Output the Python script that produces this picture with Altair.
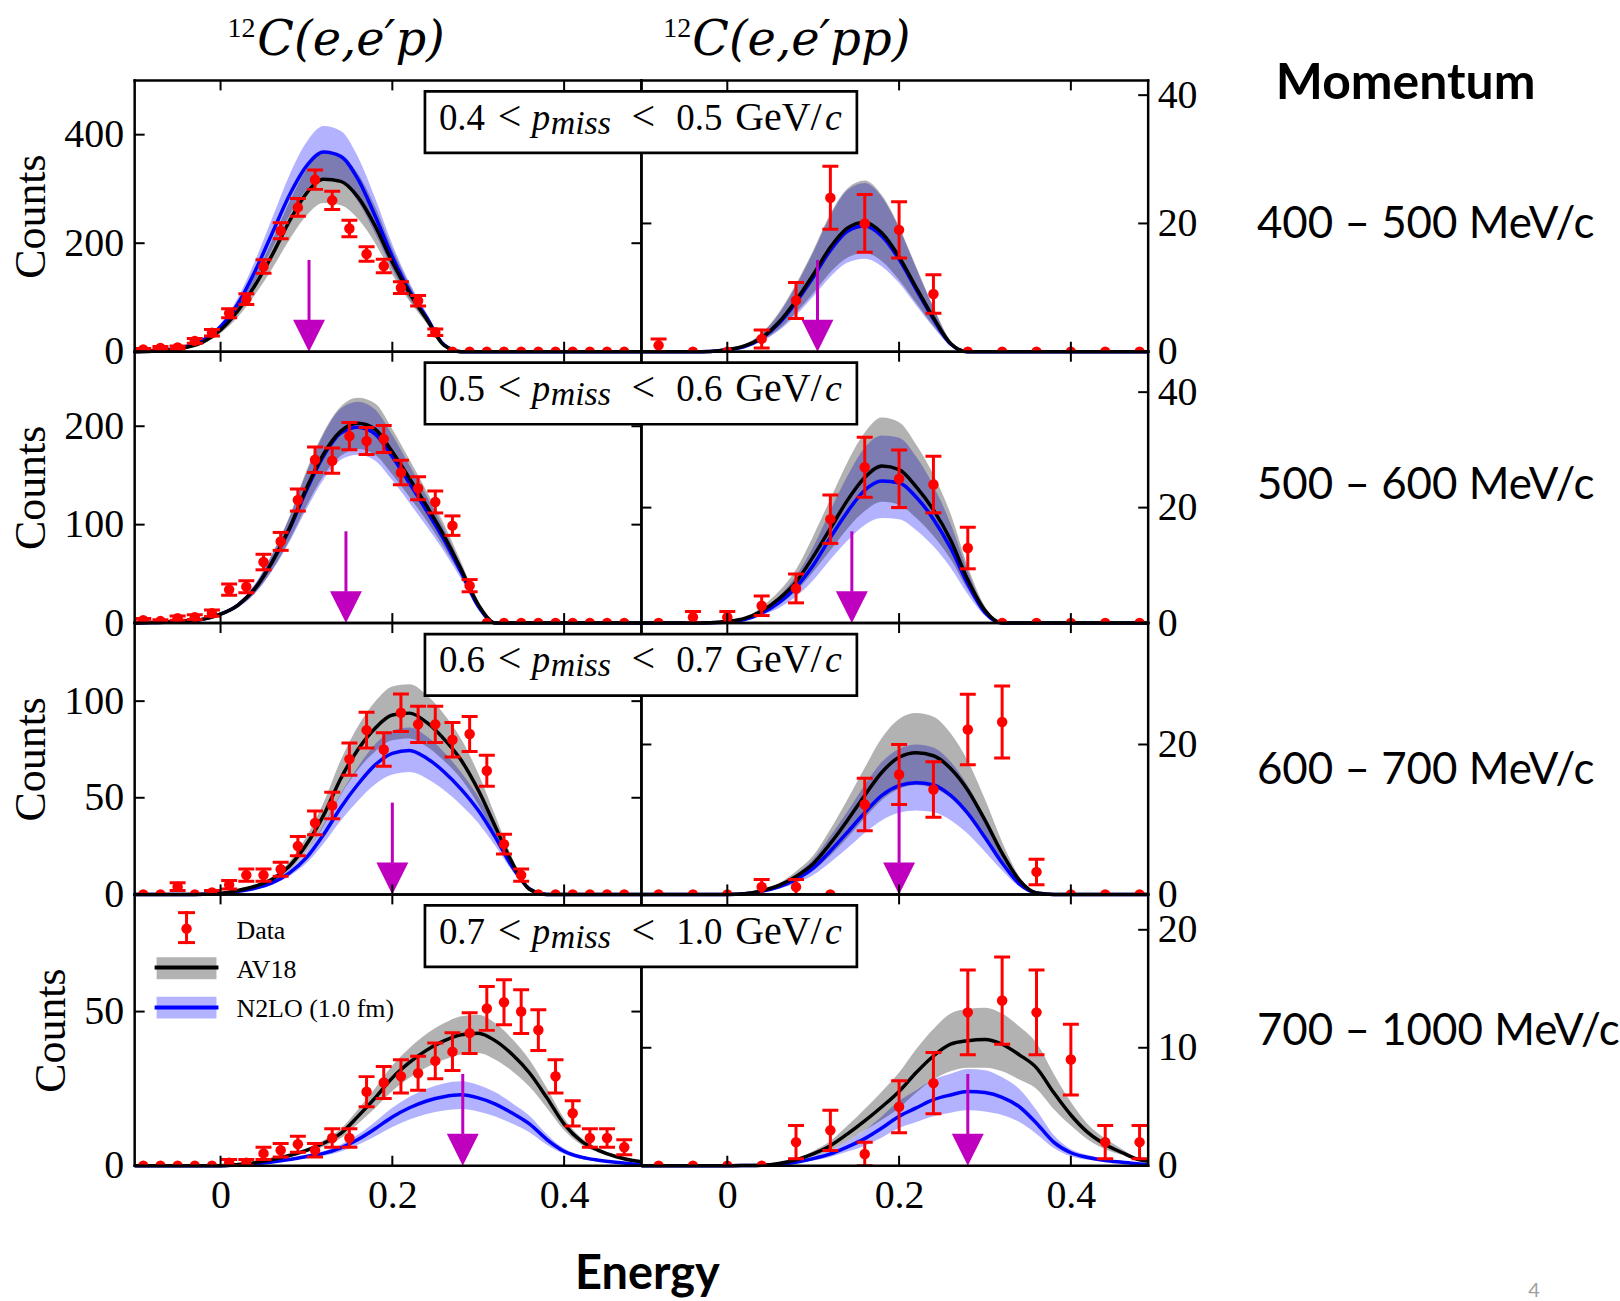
import altair as alt
import pandas as pd

# ------------------------------------------------------------------ geometry
W, H = 508, 272            # size of one panel (plot area)
TICK = 10                  # inward tick length
X_DOMAIN = [-0.1, 0.49]
X_TICKS = [0.0, 0.2, 0.4]
MAGENTA = "#BF00BF"
SERIF = "Liberation Serif"
SANS = "Lato"

# ------------------------------------------------------------------ data
# simulation grid (energy, GeV)
X_GRID = [-0.10, -0.08, -0.06, -0.04, -0.02, 0.00, 0.02, 0.04, 0.06, 0.08,
          0.10, 0.12, 0.14, 0.16, 0.18, 0.20, 0.22, 0.24, 0.26, 0.28,
          0.30, 0.32, 0.34, 0.36, 0.38, 0.40, 0.42, 0.44, 0.46, 0.48, 0.49]

# measured bins
EP_X = [-0.09, -0.07, -0.05, -0.03, -0.01, 0.01, 0.03, 0.05, 0.07, 0.09,
        0.11, 0.13, 0.15, 0.17, 0.19, 0.21, 0.23, 0.25, 0.27, 0.29,
        0.31, 0.33, 0.35, 0.37, 0.39, 0.41, 0.43, 0.45, 0.47]
EPP_X = [-0.08, -0.04, 0.00, 0.04, 0.08, 0.12, 0.16, 0.20, 0.24, 0.28,
         0.32, 0.36, 0.40, 0.44, 0.48]

P_LOW = ["0.4", "0.5", "0.6", "0.7"]
P_HIGH = ["0.5", "0.6", "0.7", "1.0"]
MOMENTUM_BINS = ["400 \u2013 500 MeV/c", "500 \u2013 600 MeV/c",
                 "600 \u2013 700 MeV/c", "700 \u2013 1000 MeV/c"]

# ---- 0.4 < pmiss < 0.5
EP1_AV18 = [0, 1, 3, 8, 18, 40, 75, 122, 178, 240, 292, 318, 314, 285, 232, 165, 108, 60, 12, 0] + [0] * 11
EP1_AV18_LO = [0, 0.8, 2.5, 6.8, 15.5, 34, 64, 105, 153, 206, 251, 274, 270, 245, 200, 142, 93, 52, 10, 0] + [0] * 11
EP1_AV18_HI = [0, 1.2, 3.5, 9.2, 21, 46, 86, 140, 205, 276, 336, 366, 361, 328, 267, 190, 124, 69, 14, 0] + [0] * 11
EP1_N2LO = [0, 2, 4, 10, 22, 46, 88, 148, 218, 288, 342, 368, 360, 318, 250, 175, 112, 63, 13, 0] + [0] * 11
EP1_N2LO_LO = [0, 1.7, 3.5, 8.7, 19, 40, 77, 129, 190, 251, 298, 320, 313, 277, 218, 152, 97, 55, 11, 0] + [0] * 11
EP1_N2LO_HI = [0, 2.3, 4.5, 11.3, 25, 52, 99, 167, 246, 325, 386, 416, 407, 359, 283, 198, 127, 71, 15, 0] + [0] * 11
EP1_COUNTS = [4, 7, 8, 20, 35, 71, 97, 157, 223, 266, 317, 279, 227, 180, 158, 118, 94, 36] + [0] * 11
EP1_ERR = [2, 2.6, 2.8, 4.5, 5.9, 8.4, 9.8, 12.5, 14.9, 16.3, 17.8, 16.7, 15.1, 13.4, 12.6, 10.9, 9.7, 6] + [0] * 11

EPP1_AV18 = [0, 0, 0, 0, 0.05, 0.3, 0.9, 2.2, 4.6, 8, 12, 16.3, 19.3, 20.2, 18.5, 14.8, 10, 5.3, 1.3, 0] + [0] * 11
EPP1_AV18_LO = [0, 0, 0, 0, 0.04, 0.2, 0.7, 1.7, 3.5, 6.1, 9.1, 12.4, 14.7, 15.4, 14.1, 11.2, 7.6, 4, 1, 0] + [0] * 11
EPP1_AV18_HI = [0, 0, 0, 0, 0.07, 0.4, 1.2, 2.9, 6.1, 10.6, 15.8, 21.5, 25.5, 26.7, 24.4, 19.5, 13.2, 7, 1.7, 0] + [0] * 11
EPP1_N2LO = [0, 0, 0, 0, 0.05, 0.3, 0.8, 2.1, 4.4, 7.7, 11.6, 15.8, 18.8, 19.6, 18, 14.4, 9.7, 5.1, 1.2, 0] + [0] * 11
EPP1_N2LO_LO = [0, 0, 0, 0, 0.04, 0.2, 0.6, 1.6, 3.3, 5.7, 8.6, 11.7, 13.9, 14.5, 13.3, 10.7, 7.2, 3.8, 0.9, 0] + [0] * 11
EPP1_N2LO_HI = [0, 0, 0, 0, 0.07, 0.4, 1.1, 2.8, 5.9, 10.3, 15.5, 21.2, 25.2, 26.3, 24.1, 19.3, 13, 6.8, 1.6, 0] + [0] * 11
EPP1_COUNTS = [1, 0, 0, 2, 8, 24, 20, 19, 9, 0, 0, 0, 0, 0, 0]
EPP1_ERR = [1, 0, 0, 1.4, 2.8, 4.9, 4.5, 4.4, 3, 0, 0, 0, 0, 0, 0]

# ---- 0.5 < pmiss < 0.6
EP2_AV18 = [0, 0.5, 1, 2, 4, 9, 18, 35, 62, 96, 137, 172, 195, 203, 197, 174, 147, 119, 89, 55, 19, 0] + [0] * 9
EP2_AV18_LO = [0, 0.4, 0.9, 1.7, 3.5, 7.8, 15.7, 30.5, 54, 84, 119, 150, 170, 177, 171, 151, 128, 104, 77, 48, 16.5, 0] + [0] * 9
EP2_AV18_HI = [0, 0.6, 1.1, 2.3, 4.5, 10.2, 20.3, 39.5, 70, 108, 155, 194, 220, 229, 223, 197, 166, 134, 101, 62, 21.5, 0] + [0] * 9
EP2_N2LO = [0, 0.5, 1, 2, 4, 9, 18, 35, 62, 95, 135, 170, 193, 199, 192, 169, 142, 114, 85, 52, 17, 0] + [0] * 9
EP2_N2LO_LO = [0, 0.4, 0.9, 1.7, 3.4, 7.7, 15.5, 30, 53, 82, 116, 146, 166, 171, 165, 145, 122, 98, 73, 45, 14.6, 0] + [0] * 9
EP2_N2LO_HI = [0, 0.6, 1.1, 2.3, 4.5, 10.2, 20.3, 39.5, 70, 107, 153, 192, 218, 225, 217, 191, 160, 129, 96, 59, 19, 0] + [0] * 9
EP2_COUNTS = [3, 2, 5, 6, 10, 34, 37, 62, 83, 125, 166, 165, 190, 185, 187, 153, 137, 123, 99, 38] + [0] * 9
EP2_ERR = [1.7, 1.4, 2.2, 2.4, 3.2, 5.8, 6.1, 7.9, 9.1, 11.2, 12.9, 12.8, 13.8, 13.6, 13.7, 12.4, 11.7, 11.1, 9.9, 6.2] + [0] * 9

EPP2_AV18 = [0, 0, 0, 0, 0.05, 0.3, 0.8, 2.1, 4.2, 7.1, 11.5, 16.4, 21.3, 25.2, 27.2, 26.6, 23.6, 19.6, 14.4, 7.5, 2.2, 0] + [0] * 9
EPP2_AV18_LO = [0, 0, 0, 0, 0.04, 0.2, 0.6, 1.6, 3.2, 5.5, 8.9, 12.6, 16.4, 19.4, 21, 20.5, 18.2, 15.1, 11.1, 5.8, 1.7, 0] + [0] * 9
EPP2_AV18_HI = [0, 0, 0, 0, 0.07, 0.4, 1, 2.8, 5.5, 9.3, 15.1, 21.5, 27.9, 33, 35.6, 34.8, 30.9, 25.7, 18.9, 9.8, 2.9, 0] + [0] * 9
EPP2_N2LO = [0, 0, 0, 0, 0.04, 0.2, 0.6, 1.7, 3.5, 6.2, 10, 14.8, 19.3, 23, 24.6, 24.3, 21.8, 18, 13, 6.8, 1.8, 0] + [0] * 9
EPP2_N2LO_LO = [0, 0, 0, 0, 0.03, 0.15, 0.45, 1.3, 2.6, 4.6, 7.4, 11, 14.3, 17, 18.2, 18, 16.1, 13.3, 9.6, 5, 1.3, 0] + [0] * 9
EPP2_N2LO_HI = [0, 0, 0, 0, 0.05, 0.3, 0.8, 2.2, 4.6, 8.2, 13.2, 19.5, 25.5, 30.4, 32.5, 32.1, 28.8, 23.8, 17.2, 9, 2.4, 0] + [0] * 9
EPP2_COUNTS = [0, 1, 1, 3, 6, 18, 27, 25, 24, 13, 0, 0, 0, 0, 0]
EPP2_ERR = [0, 1, 1, 1.7, 2.5, 4.2, 5.2, 5, 4.9, 3.6, 0, 0, 0, 0, 0]

# ---- 0.6 < pmiss < 0.7
EP3_AV18 = [0, 0, 0, 0, 0.1, 0.5, 2, 4.2, 7.8, 14.6, 25.8, 41, 60, 75, 86, 92.8, 93.8, 89, 80.5, 69.5, 54, 35, 16, 2.6, 0] + [0] * 6
EP3_AV18_LO = [0, 0, 0, 0, 0.1, 0.4, 1.7, 3.6, 6.7, 12.6, 22.2, 35.3, 51.6, 64.5, 74, 79.8, 80.7, 76.5, 69.2, 59.8, 46.4, 30.1, 13.8, 2.2, 0] + [0] * 6
EP3_AV18_HI = [0, 0, 0, 0, 0.1, 0.6, 2.3, 4.9, 9, 16.9, 29.9, 47.6, 69.6, 87, 99.8, 107.6, 108.8, 103.2, 93.4, 80.6, 62.6, 40.6, 18.6, 3, 0] + [0] * 6
EP3_N2LO = [0, 0, 0, 0, 0.1, 0.3, 1.5, 3.2, 6, 11, 19, 31, 45, 57, 67, 73, 74.5, 70.5, 63.5, 54.5, 43.5, 29.5, 14, 2.8, 0] + [0] * 6
EP3_N2LO_LO = [0, 0, 0, 0, 0.1, 0.25, 1.3, 2.7, 5.1, 9.4, 16.2, 26.4, 38.3, 48.5, 57, 62, 63.3, 60, 54, 46.3, 37, 25, 11.9, 2.4, 0] + [0] * 6
EP3_N2LO_HI = [0, 0, 0, 0, 0.1, 0.35, 1.7, 3.7, 7, 12.8, 22, 36, 52.2, 66.1, 77.7, 84.7, 86.4, 81.8, 73.7, 63.2, 50.5, 34.2, 16.2, 3.2, 0] + [0] * 6
EP3_COUNTS = [0, 0, 4, 0, 1, 5, 10, 10, 13, 25, 37, 46, 70, 85, 75, 94, 88, 88, 80, 83, 64, 26, 10] + [0] * 6
EP3_ERR = [0, 0, 2, 0, 1, 2.2, 3.2, 3.2, 3.6, 5, 6.1, 6.8, 8.4, 9.2, 8.7, 9.7, 9.4, 9.4, 8.9, 9.1, 8, 5.1, 3.2] + [0] * 6

EPP3_AV18 = [0, 0, 0, 0, 0, 0, 0.1, 0.5, 1.2, 2.4, 4.1, 6.8, 9.9, 13.2, 16.3, 18.3, 18.9, 18.5, 16.8, 13.9, 9.9, 5.5, 1.9, 0.2, 0] + [0] * 6
EPP3_AV18_LO = [0, 0, 0, 0, 0, 0, 0.08, 0.4, 0.9, 1.8, 3.2, 5.2, 7.6, 10.2, 12.6, 14.1, 14.6, 14.2, 12.9, 10.7, 7.6, 4.2, 1.5, 0.15, 0] + [0] * 6
EPP3_AV18_HI = [0, 0, 0, 0, 0, 0, 0.13, 0.6, 1.5, 3.1, 5.2, 8.7, 12.7, 16.9, 20.9, 23.4, 24.2, 23.7, 21.5, 17.8, 12.7, 7, 2.4, 0.26, 0] + [0] * 6
EPP3_N2LO = [0, 0, 0, 0, 0, 0, 0.08, 0.4, 1, 2, 3.5, 5.8, 8.3, 10.9, 13.2, 14.5, 14.9, 14.6, 13.2, 10.8, 7.6, 4.2, 1.4, 0.2, 0] + [0] * 6
EPP3_N2LO_LO = [0, 0, 0, 0, 0, 0, 0.06, 0.3, 0.75, 1.5, 2.6, 4.3, 6.2, 8.2, 9.9, 10.9, 11.2, 11, 9.9, 8.1, 5.7, 3.2, 1.05, 0.15, 0] + [0] * 6
EPP3_N2LO_HI = [0, 0, 0, 0, 0, 0, 0.11, 0.54, 1.3, 2.7, 4.7, 7.8, 11.1, 14.6, 17.7, 19.4, 20, 19.6, 17.7, 14.5, 10.2, 5.6, 1.9, 0.27, 0] + [0] * 6
EPP3_COUNTS = [0, 0, 0, 1, 1, 0, 12, 16, 14, 22, 23, 3, 0, 0, 0]
EPP3_ERR = [0, 0, 0, 1, 1, 0, 3.5, 4, 3.7, 4.7, 4.8, 1.7, 0, 0, 0]

# ---- 0.7 < pmiss < 1.0
EP4_AV18 = [0] * 6 + [0.4, 1, 2, 3.3, 5, 7.3, 10.5, 16, 22, 28.5, 33.5, 37.5, 40.5, 42.5, 43, 40.5, 36, 30, 22, 13.5, 8, 5, 3, 1.7, 1.3]
EP4_AV18_LO = [0] * 6 + [0.3, 0.85, 1.7, 2.8, 4.3, 6.2, 8.9, 13.6, 18.7, 24.2, 28.5, 31.9, 34.4, 36.1, 36.6, 34.4, 30.6, 25.5, 18.7, 11.5, 6.8, 4.3, 2.6, 1.4, 1.1]
EP4_AV18_HI = [0] * 6 + [0.5, 1.15, 2.3, 3.8, 5.7, 8.3, 12, 18.2, 25.1, 32.5, 38.2, 42.8, 46.2, 48.5, 49, 46.2, 41, 34.2, 25.1, 15.4, 9.1, 5.7, 3.4, 1.9, 1.5]
EP4_N2LO = [0] * 6 + [0.2, 0.6, 1.2, 2, 3, 4, 5.8, 8.5, 12, 15.8, 18.8, 21, 22.4, 23, 22, 20, 17, 13.5, 8.5, 4.7, 2.8, 1.8, 1.1, 0.6, 0.5]
EP4_N2LO_LO = [0] * 6 + [0.16, 0.48, 1, 1.6, 2.4, 3.2, 4.6, 6.8, 9.6, 12.6, 15, 16.8, 17.9, 18.4, 17.6, 16, 13.6, 10.8, 6.8, 3.8, 2.2, 1.4, 0.9, 0.5, 0.4]
EP4_N2LO_HI = [0] * 6 + [0.24, 0.7, 1.4, 2.4, 3.6, 4.8, 6.9, 10.1, 14.3, 18.8, 22.4, 25, 26.7, 27.4, 26.2, 23.8, 20.2, 16.1, 10.1, 5.6, 3.3, 2.1, 1.3, 0.7, 0.6]
EP4_COUNTS = [0, 0, 0, 0, 0, 1, 1, 4, 5, 7, 5, 9, 9, 24, 27, 29, 30, 34, 37, 43, 51, 53, 50, 44, 29, 17, 9, 9, 6]
EP4_ERR = [0, 0, 0, 0, 0, 1, 1, 2, 2.2, 2.6, 2.2, 3, 3, 4.9, 5.2, 5.4, 5.5, 5.8, 6.1, 6.6, 7.1, 7.3, 7.1, 6.6, 5.4, 4.1, 3, 3, 2.4]

EPP4_AV18 = [0] * 6 + [0.02, 0.05, 0.2, 0.5, 1, 1.7, 2.7, 3.8, 5, 6.3, 7.9, 9.3, 10.3, 10.6, 10.7, 10.3, 9.4, 8.3, 6.2, 4.3, 2.8, 1.8, 1.1, 0.5, 0.4]
EPP4_AV18_LO = [0] * 6 + [0.02, 0.04, 0.16, 0.4, 0.8, 1.3, 2.1, 3, 3.9, 4.9, 6.2, 7.3, 8, 8.3, 8.3, 8, 7.3, 6.5, 4.8, 3.4, 2.2, 1.4, 0.9, 0.4, 0.3]
EPP4_AV18_HI = [0] * 6 + [0.03, 0.06, 0.25, 0.6, 1.25, 2.1, 3.4, 4.8, 6.3, 7.9, 9.9, 11.6, 12.9, 13.3, 13.4, 12.9, 11.8, 10.4, 7.8, 5.4, 3.5, 2.3, 1.4, 0.6, 0.5]
EPP4_N2LO = [0] * 6 + [0.01, 0.04, 0.1, 0.3, 0.6, 1, 1.6, 2.3, 3.2, 4.2, 4.9, 5.6, 6, 6.3, 6.2, 5.8, 5, 3.6, 2, 1.1, 0.7, 0.45, 0.3, 0.15, 0.1]
EPP4_N2LO_LO = [0] * 6 + [0.01, 0.03, 0.08, 0.22, 0.45, 0.75, 1.2, 1.7, 2.4, 3.2, 3.7, 4.2, 4.5, 4.7, 4.6, 4.3, 3.7, 2.7, 1.5, 0.8, 0.5, 0.35, 0.2, 0.1, 0.08]
EPP4_N2LO_HI = [0] * 6 + [0.01, 0.05, 0.13, 0.4, 0.8, 1.3, 2.1, 3, 4.2, 5.5, 6.4, 7.3, 7.8, 8.2, 8.1, 7.5, 6.5, 4.7, 2.6, 1.4, 0.9, 0.6, 0.4, 0.2, 0.13]
EPP4_COUNTS = [0, 0, 0, 0, 2, 3, 1, 5, 7, 13, 14, 13, 9, 2, 2]
EPP4_ERR = [0, 0, 0, 0, 1.4, 1.7, 1, 2.2, 2.6, 3.6, 3.7, 3.6, 3, 1.4, 1.4]

# axis ranges, tick values and the arrow positions for each row
EP_YMAX = [500, 275.7, 140.4, 88]
EPP_YMAX = [42.3, 47, 36.2, 23]
EP_YTICKS = [[0, 200, 400], [0, 100, 200], [0, 50, 100], [0, 50]]
EPP_YTICKS = [[0, 20, 40], [0, 20, 40], [0, 20], [0, 10, 20]]
EP_ARROW = [0.103, 0.146, 0.200, 0.282]
EPP_ARROW = [0.105, 0.145, 0.200, 0.280]

EP_CURVES = [
    (EP1_AV18, EP1_AV18_LO, EP1_AV18_HI, EP1_N2LO, EP1_N2LO_LO, EP1_N2LO_HI),
    (EP2_AV18, EP2_AV18_LO, EP2_AV18_HI, EP2_N2LO, EP2_N2LO_LO, EP2_N2LO_HI),
    (EP3_AV18, EP3_AV18_LO, EP3_AV18_HI, EP3_N2LO, EP3_N2LO_LO, EP3_N2LO_HI),
    (EP4_AV18, EP4_AV18_LO, EP4_AV18_HI, EP4_N2LO, EP4_N2LO_LO, EP4_N2LO_HI),
]
EPP_CURVES = [
    (EPP1_AV18, EPP1_AV18_LO, EPP1_AV18_HI, EPP1_N2LO, EPP1_N2LO_LO, EPP1_N2LO_HI),
    (EPP2_AV18, EPP2_AV18_LO, EPP2_AV18_HI, EPP2_N2LO, EPP2_N2LO_LO, EPP2_N2LO_HI),
    (EPP3_AV18, EPP3_AV18_LO, EPP3_AV18_HI, EPP3_N2LO, EPP3_N2LO_LO, EPP3_N2LO_HI),
    (EPP4_AV18, EPP4_AV18_LO, EPP4_AV18_HI, EPP4_N2LO, EPP4_N2LO_LO, EPP4_N2LO_HI),
]
EP_DATA = [(EP1_COUNTS, EP1_ERR), (EP2_COUNTS, EP2_ERR), (EP3_COUNTS, EP3_ERR), (EP4_COUNTS, EP4_ERR)]
EPP_DATA = [(EPP1_COUNTS, EPP1_ERR), (EPP2_COUNTS, EPP2_ERR), (EPP3_COUNTS, EPP3_ERR), (EPP4_COUNTS, EPP4_ERR)]


# ------------------------------------------------------------------ helpers
def curve_frame(series):
    av, av_lo, av_hi, n2, n2_lo, n2_hi = series
    return pd.DataFrame({"energy": X_GRID, "av18": av, "av18_lo": av_lo, "av18_hi": av_hi,
                         "n2lo": n2, "n2lo_lo": n2_lo, "n2lo_hi": n2_hi})


def point_frame(xs, counts, errs):
    df = pd.DataFrame({"energy": xs, "counts": counts, "err": errs})
    df["lo"] = df["counts"] - df["err"]
    df["hi"] = df["counts"] + df["err"]
    return df


ONE = pd.DataFrame({"k": [0]})


def text(label, x, y, size, font=SERIF, style="normal", weight="normal",
         align="left", baseline="alphabetic", color="black"):
    return alt.Chart(pd.DataFrame({"t": [label]})).mark_text(
        font=font, fontSize=size, fontStyle=style, fontWeight=weight,
        align=align, baseline=baseline, color=color,
    ).encode(x=alt.value(x), y=alt.value(y), text="t:N")


def hrule(x1, x2, y, color="black", width=2.5):
    return alt.Chart(ONE).mark_rule(color=color, strokeWidth=width, strokeCap="square").encode(
        x=alt.value(x1), x2=alt.value(x2), y=alt.value(y))


def vrule(x, y1, y2, color="black", width=2.5):
    return alt.Chart(ONE).mark_rule(color=color, strokeWidth=width, strokeCap="square").encode(
        x=alt.value(x), y=alt.value(y1), y2=alt.value(y2))


def panel(row, col):
    right = col == 1
    curves = curve_frame((EPP_CURVES if right else EP_CURVES)[row])
    counts, errs = (EPP_DATA if right else EP_DATA)[row]
    points = point_frame(EPP_X if right else EP_X, counts, errs)
    ymax = (EPP_YMAX if right else EP_YMAX)[row]
    yticks = (EPP_YTICKS if right else EP_YTICKS)[row]
    arrow_x = (EPP_ARROW if right else EP_ARROW)[row]

    xs = alt.Scale(domain=X_DOMAIN, nice=False, zero=False)
    ys = alt.Scale(domain=[0, ymax], nice=False, zero=False)

    if row == 3:
        x_axis = alt.Axis(values=X_TICKS, format="~g", title=None, domain=False, ticks=False,
                          grid=False, labelPadding=10, labelFlush=False, labelOverlap=False)
    else:
        x_axis = None
    if right:
        y_axis = alt.Axis(values=yticks, format="d", orient="right", title=None, domain=False,
                          ticks=False, grid=False, labelPadding=9, labelFlush=False,
                          labelOverlap=False)
    else:
        y_axis = alt.Axis(values=yticks, format="d", orient="left", title="Counts", domain=False,
                          ticks=False, grid=False, labelPadding=11, labelFlush=False,
                          labelOverlap=False, titlePadding=10)

    # every layer carries the same axis definition so the merged axis survives
    def X(field):
        return alt.X(f"{field}:Q", scale=xs, axis=x_axis)

    def Y(field):
        return alt.Y(f"{field}:Q", scale=ys, axis=y_axis)

    base = alt.Chart(curves)
    layers = [
        # N2LO band, AV18 band, then the two central curves
        base.mark_area(interpolate="monotone", color="#0000FF", opacity=0.3).encode(
            x=X("energy"), y=Y("n2lo_lo"), y2="n2lo_hi:Q"),
        base.mark_area(interpolate="monotone", color="#000000", opacity=0.3).encode(
            x=X("energy"), y=Y("av18_lo"), y2="av18_hi:Q"),
        base.mark_line(interpolate="monotone", color="#0000FF", strokeWidth=3.5).encode(
            x=X("energy"), y=Y("n2lo")),
        base.mark_line(interpolate="monotone", color="#000000", strokeWidth=3.5).encode(
            x=X("energy"), y=Y("av18")),
    ]

    # arrow marking the expected peak position
    arrow = alt.Chart(pd.DataFrame({"energy": [arrow_x], "base": [0]}))
    layers += [
        arrow.mark_rule(color=MAGENTA, strokeWidth=3).encode(
            x=X("energy"), y=alt.value(H - 92), y2=alt.value(H - 30)),
        arrow.mark_point(shape="M-1,-2L1,-2L0,0Z", size=1024, filled=True, color=MAGENTA,
                         opacity=1).encode(x=X("energy"), y=Y("base")),
    ]

    # data with Poisson error bars
    bars = alt.Chart(points[points["err"] > 0])
    layers += [
        bars.mark_rule(color="#FF0000", strokeWidth=3, clip=True).encode(
            x=X("energy"), y=Y("lo"), y2="hi:Q"),
        bars.mark_rule(color="#FF0000", strokeWidth=3, xOffset=-8, x2Offset=8, clip=True).encode(
            x=X("energy"), x2="energy:Q", y=Y("hi")),
        bars.mark_rule(color="#FF0000", strokeWidth=3, xOffset=-8, x2Offset=8, clip=True).encode(
            x=X("energy"), x2="energy:Q", y=Y("lo")),
        alt.Chart(points).mark_circle(color="#FF0000", size=110, opacity=1, clip=True).encode(
            x=X("energy"), y=Y("counts")),
    ]

    # inward ticks on all four sides
    yt = alt.Chart(pd.DataFrame({"v": yticks}))
    xt = alt.Chart(pd.DataFrame({"v": X_TICKS}))
    layers += [
        yt.mark_rule(color="black", strokeWidth=2).encode(y=Y("v"), x=alt.value(0), x2=alt.value(TICK)),
        yt.mark_rule(color="black", strokeWidth=2).encode(y=Y("v"), x=alt.value(W - TICK), x2=alt.value(W)),
        xt.mark_rule(color="black", strokeWidth=2).encode(x=X("v"), y=alt.value(H - TICK), y2=alt.value(H)),
        xt.mark_rule(color="black", strokeWidth=2).encode(x=X("v"), y=alt.value(0), y2=alt.value(TICK)),
    ]

    # frame
    layers += [vrule(0, 0, H), vrule(W, 0, H), hrule(0, W, 0), hrule(0, W, H)]

    if right:
        # p_miss range box straddling both columns
        layers.append(alt.Chart(ONE).mark_rect(fill="white", stroke="black", strokeWidth=2.7).encode(
            x=alt.value(-217), x2=alt.value(216), y=alt.value(11), y2=alt.value(72.7)))
        by = 49.3
        layers += [
            text(P_LOW[row], -203, by, 37),
            text("<", -144, by, 42),
            text("p", -110, by, 37, style="italic"),
            text("miss", -91, by + 4, 34, style="italic"),
            text("<", -10, by, 42),
            text(P_HIGH[row], 35, by, 37),
            text("GeV/", 94, by, 40),
            text("c", 184, by, 38, style="italic"),
        ]
        # momentum bin label to the right of the row
        mid = [145, 134.6, 148.8, 138.2][row]
        layers.append(text(MOMENTUM_BINS[row], 617, mid, 44, font=SANS, baseline="middle"))
        if row == 0:
            layers += [
                text("Momentum", 636, 19, 50, font=SANS, weight="bold"),
                text("12", 22, -44, 28),
                text("C(e,e\u2032pp)", 51, -25, 48, font="DejaVu Serif", style="italic"),
            ]
        if row == 3:
            layers.append(text("4", 889, H + 132, 20, font=SANS, color="#A0A0A0"))
    else:
        if row == 0:
            layers += [
                # anchors the page origin at the top-left corner
                alt.Chart(ONE).mark_rect(fill="white").encode(
                    x=alt.value(-135), x2=alt.value(-134), y=alt.value(-79), y2=alt.value(-78)),
                text("12", 93, -44, 28),
                text("C(e,e\u2032p)", 123, -25, 48, font="DejaVu Serif", style="italic"),
            ]
        if row == 3:
            # legend
            layers += [
                alt.Chart(ONE).mark_rect(fill="#B3B3B3").encode(
                    x=alt.value(22), x2=alt.value(82), y=alt.value(63), y2=alt.value(85)),
                hrule(22, 82, 73.3, width=4),
                alt.Chart(ONE).mark_rect(fill="#B3B3FF").encode(
                    x=alt.value(22), x2=alt.value(82), y=alt.value(102.5), y2=alt.value(124.3)),
                hrule(22, 82, 113.3, color="#0000FF", width=4),
                vrule(52, 18.3, 48.3, color="#FF0000", width=3),
                hrule(45, 59, 18.3, color="#FF0000", width=3),
                hrule(45, 59, 48.3, color="#FF0000", width=3),
                alt.Chart(ONE).mark_circle(color="#FF0000", size=110, opacity=1).encode(
                    x=alt.value(52), y=alt.value(34.3)),
                text("Data", 102, 45, 26),
                text("AV18", 102, 84.3, 26),
                text("N2LO (1.0 fm)", 102, 123.3, 26),
                text("Energy", 514, H + 124, 47, font=SANS, weight="bold", align="center"),
            ]

    return alt.layer(*layers).properties(width=W, height=H)


panels = [panel(r, c) for r in range(4) for c in range(2)]

chart = alt.concat(*panels, columns=2, spacing=0, bounds="flush").properties(
    padding=0
).configure_view(
    strokeWidth=0
).configure_axis(
    labelFont=SERIF, labelFontSize=40, labelColor="black",
    titleFont=SERIF, titleFontSize=44, titleFontWeight="normal", titleColor="black",
)

chart.save("out.html", embed_options={"renderer": "svg", "actions": False})
